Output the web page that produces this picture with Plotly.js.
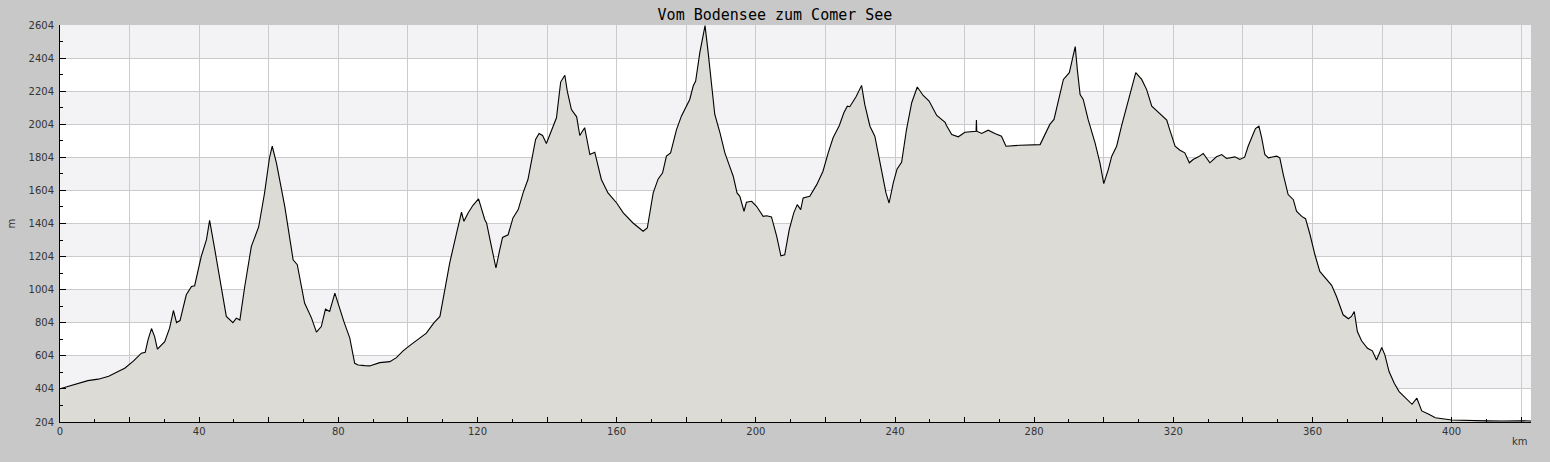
<!DOCTYPE html>
<html>
<head>
<meta charset="utf-8">
<script src="https://cdn.plot.ly/plotly-3.0.1.min.js"></script>
<style>html,body{margin:0;padding:0;background:#c8c8c8;}#chart{width:1550px;height:462px;}</style>
</head>
<body>
<div id="chart"></div>
<script>
var chartTitle = "Vom Bodensee zum Comer See";
var xUnit = "km";
var yUnit = "m";

var distanceKm = [0,1.5,3,5,8,11,14,16.7,18.6,21,23.4,24.5,25.3,26.3,27.2,28.0,30.1,31.5,32.6,33.5,34.5,36.3,37.8,38.7,40.6,42.1,43.0,44.5,46.4,47.8,49.7,50.7,51.7,53.1,55.0,57.1,58.8,60.2,61.0,62.2,64.6,67.0,68.2,70.3,72.3,73.7,75.1,76.3,77.5,79.0,81.6,83.3,84.7,85.7,87.6,89.0,91.9,94.8,96.7,98.6,100.5,102.9,105.3,107.4,109.2,110.6,112.0,114.0,115.4,116.1,117.3,118.7,120.3,122.1,122.6,124.0,125.3,126.2,127.2,128.8,130.2,131.7,133.1,134.5,135.5,136.7,137.7,138.7,139.8,141.3,142.7,143.9,145.1,145.8,147.0,148.5,149.4,150.8,152.3,153.7,155.6,157.5,160.0,161.9,164.7,167.6,168.8,170.5,171.9,173.2,174.3,175.5,177.2,178.6,180.1,181.0,182.0,182.7,183.9,184.8,185.4,186.3,187.3,188.2,189.7,191.1,192.3,193.5,194.6,195.4,196.6,197.3,198.8,200.2,202.1,203.1,204.5,206.0,207.2,208.3,209.6,210.9,211.9,212.9,213.6,215.5,217.5,219.3,220.8,222.2,224.0,225.3,226.3,227.0,228.8,230.4,231.3,232.8,234.2,235.6,237.4,238.3,239.5,240.6,241.9,243.3,244.8,246.4,248.1,249.8,252.0,254.4,254.8,256.3,258.2,260.1,263.3,263.4,263.5,264.9,266.8,268.7,270.6,271.9,275.9,281.7,283.1,284.5,285.7,286.9,288.4,290.1,291.1,291.8,292.4,293.2,294.1,295.5,297.5,298.9,300.0,301.3,302.3,303.7,305.1,306.6,308.0,309.2,310.9,312.3,313.8,316.2,318.1,319.0,320.5,321.9,323.3,324.6,325.7,327.2,328.6,330.5,332.4,333.9,335.3,337.7,339.1,340.5,341.5,342.5,343.6,344.6,345.4,346.3,347.3,349.7,350.6,351.6,353.0,354.5,355.4,356.9,358.0,359.3,360.7,362.1,363.6,365.5,366.9,368.8,370.3,371.2,372.0,372.9,374.1,375.8,377.2,378.4,379.9,380.8,382.0,383.5,384.9,386.8,388.6,390.0,391.4,393.3,395.3,400.0,404.8,410,414.4,418,420.1,422.8];

var elevationM = [405,415,425,438,454,463,480,509,529,570,620,626,700,769,720,644,690,771,878,805,817,973,1023,1028,1205,1306,1423,1246,1023,842,805,832,820,1023,1266,1383,1589,1800,1871,1771,1508,1185,1155,923,832,747,781,886,872,983,811,711,559,549,545,543,563,569,593,634,666,701,741,802,842,1003,1165,1347,1472,1417,1468,1514,1553,1427,1407,1266,1135,1226,1320,1336,1438,1488,1589,1670,1791,1912,1948,1936,1888,1972,2043,2259,2300,2204,2093,2049,1936,1983,1821,1835,1670,1589,1528,1468,1407,1357,1377,1589,1672,1710,1811,1831,1972,2053,2113,2154,2235,2265,2437,2537,2600,2437,2235,2063,1952,1831,1760,1690,1589,1568,1478,1532,1538,1508,1447,1451,1444,1326,1209,1215,1367,1468,1518,1488,1559,1568,1639,1720,1831,1922,1997,2073,2113,2110,2170,2239,2124,1992,1932,1791,1589,1528,1650,1734,1774,1972,2134,2229,2178,2144,2057,2015,1997,1942,1928,1956,1962,2029,1962,1948,1968,1948,1932,1871,1877,1881,1942,2003,2033,2144,2275,2316,2416,2473,2336,2184,2154,2033,1892,1771,1645,1730,1811,1871,1992,2113,2225,2316,2275,2215,2113,2063,2029,1968,1871,1847,1831,1771,1791,1807,1827,1771,1807,1821,1797,1807,1791,1805,1871,1922,1978,1992,1922,1821,1801,1811,1801,1700,1579,1548,1478,1447,1433,1336,1215,1114,1074,1030,963,852,828,842,872,751,695,650,634,579,654,610,509,438,388,351,311,348,271,252,230,216,212,211,210,212,212,210];

var xTickVals = [0,20,40,60,80,100,120,140,160,180,200,220,240,260,280,300,320,340,360,380,400,420];
var xTickText = ["0","","40","","80","","120","","160","","200","","240","","280","","320","","360","","400",""];
var yTickVals = [204,404,604,804,1004,1204,1404,1604,1804,2004,2204,2404,2604];
var yTickText = ["204","404","604","804","1004","1204","1404","1604","1804","2004","2204","2404","2604"];
var shadedBands = [[404,604],[804,1004],[1204,1404],[1604,1804],[2004,2204],[2404,2604]];

var shapes = shadedBands.map(function(b){
  return {type:'rect', xref:'paper', x0:0, x1:1, yref:'y', y0:b[0], y1:b[1],
          fillcolor:'#f3f2f5', line:{width:0}, layer:'below'};
});

var trace = {
  x: distanceKm, y: elevationM, type:'scatter', mode:'lines',
  fill:'tozeroy', fillcolor:'#dcdbd6',
  line:{color:'#000000', width:1.1}, hoverinfo:'skip'
};

var tickFont = {family:'DejaVu Sans', size:10, color:'#333333'};

var layout = {
  width:1550, height:462,
  paper_bgcolor:'#c8c8c8', plot_bgcolor:'#ffffff',
  margin:{l:60, r:19, t:25, b:40, pad:0},
  showlegend:false,
  title:{text:chartTitle, x:0.5, xanchor:'center', y:1, yref:'paper', yanchor:'bottom', pad:{b:5},
         font:{family:'DejaVu Sans Mono', size:15, color:'#000000', weight:'normal'}},
  xaxis:{range:[0,422.8], tickmode:'array', tickvals:xTickVals, ticktext:xTickText,
         showgrid:true, gridcolor:'#cbcbcb', gridwidth:1,
         ticks:'inside', ticklen:5, tickcolor:'#000', tickwidth:1,
         showline:true, linecolor:'#000', linewidth:1, zeroline:false,
         tickfont:tickFont, ticklabelstandoff:0,
         minor:{dtick:10, tick0:0, ticks:'inside', ticklen:3, tickcolor:'#000', showgrid:false}},
  yaxis:{range:[204,2604], tickmode:'array', tickvals:yTickVals, ticktext:yTickText,
         showgrid:true, gridcolor:'#cbcbcb', gridwidth:1,
         ticks:'inside', ticklen:6, tickcolor:'#000', tickwidth:1,
         showline:true, linecolor:'#000', linewidth:1, zeroline:false,
         tickfont:tickFont, ticklabelstandoff:3,
         minor:{dtick:100, tick0:204, ticks:'inside', ticklen:3, tickcolor:'#000', showgrid:false}},
  shapes:shapes,
  annotations:[
    {text:yUnit, xref:'paper', yref:'paper', x:0, y:0.5, xanchor:'center', yanchor:'middle',
     xshift:-49, textangle:-90, showarrow:false, font:tickFont},
    {text:xUnit, xref:'paper', yref:'paper', x:1, y:0, xanchor:'right', yanchor:'middle',
     xshift:-1, yshift:-19, showarrow:false, font:tickFont}
  ]
};

Plotly.newPlot('chart', [trace], layout, {staticPlot:true, displayModeBar:false});
</script>
</body>
</html>
